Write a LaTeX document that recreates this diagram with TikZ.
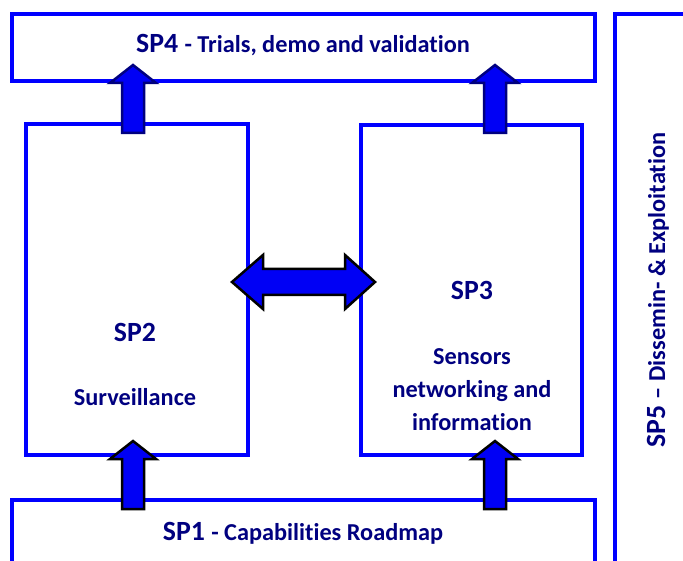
\documentclass[tikz,border=0pt]{standalone}
\usepackage{fontspec}
\setmainfont{Carlito}[Ligatures={NoCommon,TeX}]
\definecolor{boxblue}{RGB}{0,0,255}
\definecolor{navy}{RGB}{0,0,128}
\definecolor{arrowblue}{RGB}{0,0,245}

\tikzset{
  wpbox/.style={draw=boxblue, line width=3.2pt, inner sep=0pt, outer sep=0pt},
  lbl/.style={text=navy, inner sep=0pt, anchor=base},
  spfont/.style={font=\fontsize{27.8}{33}\selectfont\bfseries},
  subfont/.style={font=\fontsize{24.3}{33}\selectfont\bfseries},
  blockarrow/.style={fill=arrowblue, line width=2.5pt, line join=miter},
  uparrow/.pic={
    \path[pic actions] (-11,0) -- (-11,-50) -- (-23,-50) -- (0,-68)
      -- (23,-50) -- (11,-50) -- (11,0) -- cycle;
  },
  twowayarrow/.pic={
    \path[pic actions] (0,0) -- (31,-27) -- (31,-13) -- (113,-13) -- (113,-27)
      -- (143,0) -- (113,27) -- (113,13) -- (31,13) -- (31,27) -- cycle;
  }
}
\newcommand{\splabel}[2]{{\fontsize{27.8}{33}\selectfont\bfseries #1 \fontsize{24.3}{33}\selectfont #2}}

\begin{document}
\begin{tikzpicture}[x=1pt,y=-1pt]
\useasboundingbox (0,0) rectangle (683,561);
\fill[white] (0,0) rectangle (683,561);
\begin{scope}
\clip (0,0) rectangle (683,561);

% work package boxes
\node[wpbox, minimum width=583pt, minimum height=67pt] (sp4) at (303.5,47.5) {};
\node[wpbox, minimum width=222pt, minimum height=331pt] (sp2) at (137,289.5) {};
\node[wpbox, minimum width=221pt, minimum height=330pt] (sp3) at (471.5,290) {};
\node[wpbox, minimum width=583pt, minimum height=100pt] (sp1) at (303.5,550) {};
\node[wpbox, minimum width=105pt, minimum height=586pt] (sp5) at (667.5,307) {};

% labels
\node[lbl] (t4) at (303,53) {\splabel{SP4}{- Trials, demo and validation}};
\node[lbl] (t1) at (303,540) {\splabel{SP1}{- Capabilities Roadmap}};
\node[lbl, spfont] (t2a) at (135,342) {SP2};
\node[lbl, subfont] (t2b) at (135,405) {Surveillance};
\node[lbl, spfont] (t3a) at (472,300) {SP3};
\node[lbl, subfont] (t3b) at (472,364) {Sensors};
\node[lbl, subfont] (t3c) at (472,397) {networking and};
\node[lbl, subfont] (t3d) at (472,430) {information};
\node[lbl, rotate=90] (t5) at (665,290) {\splabel{SP5}{-- Dissemin- \& Exploitation}};

% block arrows between the work packages
\coordinate (a24) at (133,133);
\coordinate (a34) at (495,133);
\coordinate (a12) at (133,509);
\coordinate (a13) at (495,509);
\coordinate (a23) at (232,282);
\pic[blockarrow, draw=navy] at (a24) {uparrow};
\pic[blockarrow, draw=navy] at (a34) {uparrow};
\pic[blockarrow, draw=black] at (a12) {uparrow};
\pic[blockarrow, draw=black] at (a13) {uparrow};
\pic[blockarrow, draw=black] at (a23) {twowayarrow};
\end{scope}
\end{tikzpicture}
\end{document}
